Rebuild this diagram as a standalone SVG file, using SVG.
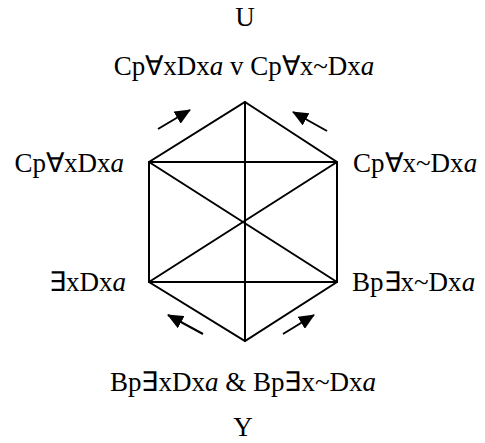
<svg xmlns="http://www.w3.org/2000/svg" width="485" height="443" viewBox="0 0 485 443">
<defs>
<style>
text{font-family:"Liberation Serif","Times New Roman",serif;font-size:27px;fill:#000}
.l{stroke:#000;stroke-width:2;fill:none;stroke-linecap:round}
.a{stroke:#000;stroke-width:2;fill:none}
</style>
<marker id="ah" viewBox="0 0 16 14" refX="15" refY="7" markerWidth="16" markerHeight="14" markerUnits="userSpaceOnUse" orient="auto">
<path d="M0,0 L16,7 L0,14 z" fill="#000"/>
</marker>
</defs>
<rect width="485" height="443" fill="#fff"/>
<g id="connectors">
<path class="l" d="M245,102 L337,162 L337,282 L245,341 L149,282 L149,162 Z"/>
<line class="l" x1="149" y1="162" x2="337" y2="162"/>
<line class="l" x1="149" y1="282" x2="337" y2="282"/>
<line class="l" x1="245" y1="102" x2="245" y2="341"/>
<line class="l" x1="149" y1="162" x2="337" y2="282"/>
<line class="l" x1="337" y1="162" x2="149" y2="282"/>
<line class="a" x1="158" y1="129" x2="190" y2="110" marker-end="url(#ah)"/>
<line class="a" x1="327" y1="131" x2="293" y2="112" marker-end="url(#ah)"/>
<line class="a" x1="203" y1="334" x2="168" y2="315" marker-end="url(#ah)"/>
<line class="a" x1="283" y1="334" x2="314" y2="315" marker-end="url(#ah)"/>
</g>
<g id="U"><text x="245" y="26" text-anchor="middle">U</text></g>
<g id="top"><text x="244" y="75" text-anchor="middle">Cp∀xDx<tspan font-style="italic">a</tspan> v Cp∀x~Dx<tspan font-style="italic">a</tspan></text></g>
<g id="ul"><text x="124" y="172" text-anchor="end">Cp∀xDx<tspan font-style="italic">a</tspan></text></g>
<g id="ur"><text x="353" y="172">Cp∀x~Dx<tspan font-style="italic">a</tspan></text></g>
<g id="ll"><text x="126" y="291" text-anchor="end">∃xDx<tspan font-style="italic">a</tspan></text></g>
<g id="lr"><text x="352" y="291">Bp∃x~Dx<tspan font-style="italic">a</tspan></text></g>
<g id="bottom"><text x="243" y="391" text-anchor="middle">Bp∃xDx<tspan font-style="italic">a</tspan> &amp; Bp∃x~Dx<tspan font-style="italic">a</tspan></text></g>
<g id="Y"><text x="243" y="436" text-anchor="middle">Y</text></g>
</svg>
